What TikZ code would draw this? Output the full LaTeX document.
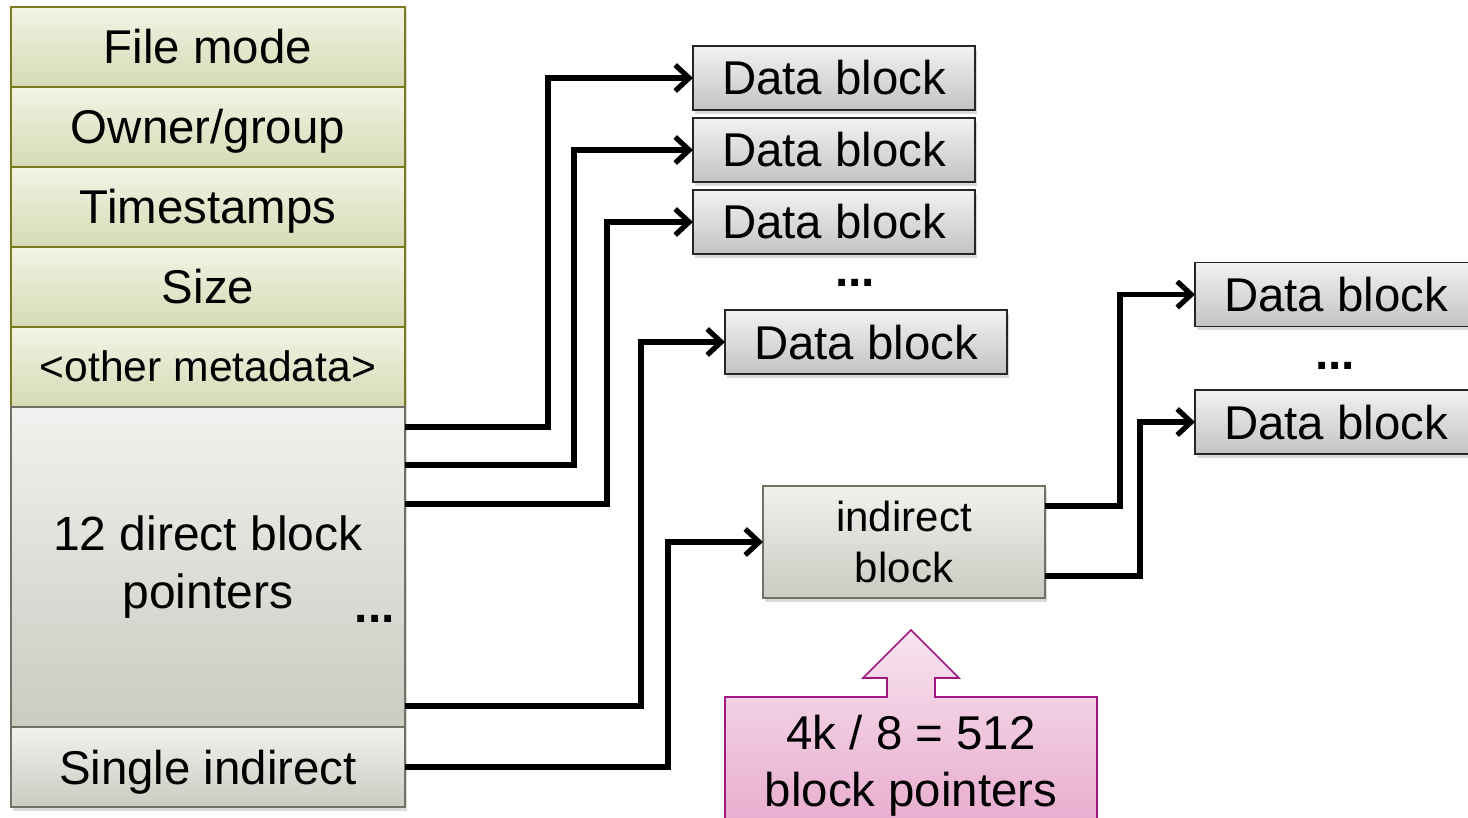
\documentclass[tikz,border=0pt]{standalone}
\usepackage{fontspec}
\setmainfont{Liberation Sans}
\usetikzlibrary{arrows.meta,positioning,shadows}
\definecolor{metaline}{HTML}{7B7B22}
\definecolor{metatop}{HTML}{F3F3E6}
\definecolor{metabot}{HTML}{D6DAB3}
\definecolor{ptrline}{HTML}{727264}
\definecolor{ptrtop}{HTML}{F1F1EF}
\definecolor{ptrbot}{HTML}{CBCBC2}
\definecolor{blktop}{HTML}{F2F2F2}
\definecolor{blkbot}{HTML}{C3C3C3}
\definecolor{noteline}{HTML}{9E1A80}
\definecolor{notetop}{HTML}{F8E4EF}
\definecolor{notebot}{HTML}{E6A5CA}
\tikzset{
  boxshadow/.style={drop shadow={opacity=0.3,shadow xshift=1.2pt,shadow yshift=-1.8pt}},
  meta/.style={draw=metaline,line width=0.8pt,top color=metatop,bottom color=metabot,
    minimum width=197pt,minimum height=40pt,inner sep=0pt,outer sep=0pt,boxshadow,
    text height=17pt,text depth=0pt,font=\fontsize{23.7}{28}\selectfont},
  ptr/.style={meta,draw=ptrline,top color=ptrtop,bottom color=ptrbot},
  datablk/.style={draw=black!85,line width=0.9pt,top color=blktop,bottom color=blkbot,
    minimum width=141pt,minimum height=32pt,inner sep=0pt,outer sep=0pt,boxshadow,
    text height=17pt,text depth=0pt,font=\fontsize{23.7}{28}\selectfont},
  dots/.style={inner sep=0pt,font=\fontsize{24}{28}\selectfont\bfseries},
  link/.style={line width=2.6pt,-{Straight Barb[length=7pt,width=13pt]}},
}
\begin{document}
\begin{tikzpicture}[x=0.5pt,y=-0.5pt]
  \useasboundingbox (0,0) rectangle (1468,818);
  % inode
  \node[meta] (fmode) at (208,47) {File mode};
  \node[meta,below=0pt of fmode] (owner) {Owner/group};
  \node[meta,below=0pt of owner] (stamps) {Timestamps};
  \node[meta,below=0pt of stamps] (size) {Size};
  \node[meta,below=0pt of size,text height=14.4pt,
    font=\fontsize{21.3}{24}\selectfont] (other) {<other metadata>};
  \node[ptr,below=0pt of other,minimum height=160pt,align=center,text height=,text depth=,
    font=\fontsize{24}{29}\selectfont] (ptrs) {12 direct block\\pointers};
  \node[ptr,below=0pt of ptrs] (single) {Single indirect};
  \node[dots] (pdots) at (375,619) {...};

  % data blocks
  \node[datablk] (db1) at (834,78) {Data block};
  \node[datablk,below=4pt of db1] (db2) {Data block};
  \node[datablk,below=4pt of db2] (db3) {Data block};
  \node[dots] (ddots) at (855,283) {...};
  \node[datablk] (db4) at (866,342) {Data block};

  \node[ptr,minimum width=141pt,minimum height=56pt,align=center,text height=,text depth=,
    font=\fontsize{21}{25.5}\selectfont] (ind) at (904,542) {indirect\\block};
  \node[datablk] (rdb1) at (1336,294.5) {Data block};
  \node[dots] (rdots) at (1335,366) {...};
  \node[datablk] (rdb2) at (1336,422) {Data block};

  % callout
  \filldraw[draw=noteline,line width=0.8pt,top color=notetop,bottom color=notebot]
    (725,697) -- (887,697) -- (887,678) -- (863,678) -- (911,630) -- (959,678)
    -- (935,678) -- (935,697) -- (1097,697) -- (1097,850) -- (725,850) -- cycle;
  \node[align=center,font=\fontsize{23.7}{28.5}\selectfont] (note) at (911,766)
    {4k / 8 = 512\\block pointers};

  \draw[link] ([yshift=-10pt]ptrs.north east) -| ([xshift=-72.5pt]db1.west) -- (db1.west);
  \draw[link] ([yshift=-29pt]ptrs.north east) -| ([xshift=-59.5pt]db2.west) -- (db2.west);
  \draw[link] ([yshift=-48.5pt]ptrs.north east) -| ([xshift=-43pt]db3.west) -- (db3.west);
  \draw[link] ([yshift=10.5pt]ptrs.south east) -| ([xshift=-42pt]db4.west) -- (db4.west);
  \draw[link] (single.east) -| ([xshift=-47.5pt]ind.west) -- (ind.west);
  \draw[link] ([yshift=18pt]ind.east) -| ([xshift=-37.5pt]rdb1.west) -- (rdb1.west);
  \draw[link] ([yshift=-17pt]ind.east) -| ([xshift=-27.5pt]rdb2.west) -- (rdb2.west);
\end{tikzpicture}
\end{document}
